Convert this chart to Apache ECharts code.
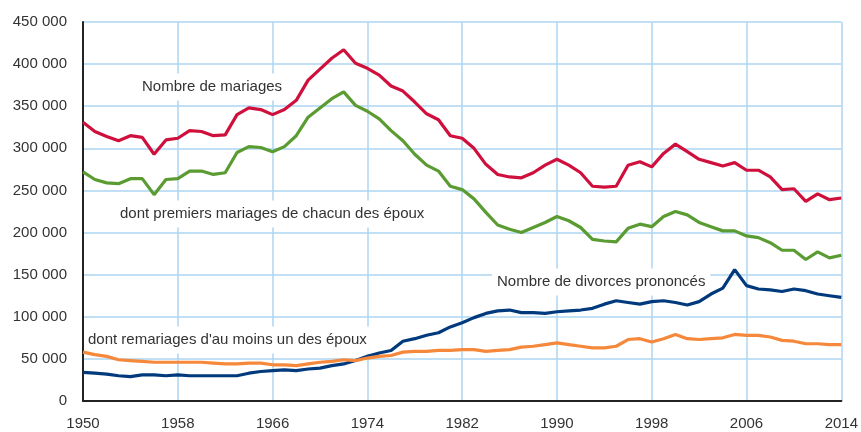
<!DOCTYPE html>
<html>
<head>
<meta charset="utf-8">
<script src="https://cdn.jsdelivr.net/npm/echarts@6/dist/echarts.min.js"></script>
<style>
  html, body { margin: 0; padding: 0; background: #fff; }
  #chart { width: 861px; height: 432px; }
</style>
</head>
<body>
<div id="chart"></div>
<script>
// années 1950 - 2014 (valeurs en milliers)
var firstYear = 1950
var mariages = [331,320,314,309,315,313,293,310,312,321, 320,315,316,340,348,346,340,346,357,381,
    394,407,417,401,395,387,374,368,355,341, 334,315,312,300,281,269,266,265,271,280,
    287,280,271,255,254,255,280,284,278,294, 305,296,287,283,279,283,274,274,266,251,
    252,237,246,239,241]
var premiers = [272,263,259,258,264,264,245,263,264,273, 273,269,271,295,302,301,296,302,315,337,
    348,359,367,351,344,335,321,309,293,280, 273,255,251,240,224,209,204,200,206,212,
    219,214,206,192,190,189,205,210,207,219, 225,221,212,207,202,202,196,194,188,179,
    179,168,177,170,173]
var divorces = [34,33,32,30,29,31,31,30,31,30, 30,30,30,30,33,35,36,37,36,38,
    39,42,44,48,53,57,60,71,74,78, 81,88,93,99,104,107,108,105,105,104,
    106,107,108,110,115,119,117,115,118,119, 117,114,118,127,134,156,137,133,132,130,
    133,131,127,125,123]
var remariages = [58,55,53,49,48,47,46,46,46,46, 46,45,44,44,45,45,43,43,42,44,
    46,47,49,48,51,53,54,58,59,59, 60,60,61,61,59,60,61,64,65,67,
    69,67,65,63,63,65,73,74,70,74, 79,74,73,74,75,79,78,78,76,72,
    71,68,68,67,67]

var labelMariages = 'Nombre de mariages'
var labelPremiers = 'dont premiers mariages de chacun des époux'
var labelDivorces = 'Nombre de divorces prononcés'
var labelRemariages = "dont remariages d'au moins un des époux"

function toPoints(arr) {
    return arr.map(function(v, i) {
        return [firstYear + i, v * 1000]
    })
}

var font = 'Liberation Sans, Arial, sans-serif'
var textColor = '#333'
var gridColor = '#acd6f2'

var myChart = echarts.init(document.getElementById('chart'), null, {renderer: 'canvas'})

function makeSeries(name, arr, color) {
    return {
        name: name,
        type: 'line',
        data: toPoints(arr),
        symbol: 'none',
        lineStyle: {color: color, width: 3.2},
        itemStyle: {color: color},
        z: 3
    }
}

function textBox(str, x, y, padding) {
    return {
        type: 'text',
        x: x,
        y: y,
        z: 1,
        style: {
            text: str,
            fill: textColor,
            font: '15px ' + font,
            verticalAlign: 'middle',
            backgroundColor: '#fff',
            padding: padding || [6, 5]
        }
    }
}

var option = {
    animation: false,
    backgroundColor: '#fff',
    grid: {
        left: 83,
        right: 18,
        top: 22,
        bottom: 31
    },
    xAxis: {
        type: 'value',
        min: 1950,
        max: 2014,
        interval: 8,
        axisLine: {show: true, lineStyle: {color: '#222', width: 2}},
        axisTick: {show: false},
        axisLabel: {
            color: textColor,
            fontSize: 15,
            fontFamily: font,
            margin: 15,
            formatter: function(v) { return String(v) }
        },
        splitLine: {show: true, lineStyle: {color: gridColor, width: 1.5}}
    },
    yAxis: {
        type: 'value',
        min: 0,
        max: 450000,
        interval: 50000,
        axisLine: {show: true, lineStyle: {color: '#222', width: 2}},
        axisTick: {show: false},
        axisLabel: {
            color: textColor,
            fontSize: 15,
            fontFamily: font,
            margin: 16,
            formatter: function(v) { return v === 0 ? '0' : (v / 1000) + ' 000' }
        },
        splitLine: {show: true, lineStyle: {color: gridColor, width: 1.5}}
    },
    series: [
        makeSeries(labelMariages, mariages, '#d0103c'),
        makeSeries(labelPremiers, premiers, '#5a9b32'),
        makeSeries(labelDivorces, divorces, '#003a7d'),
        makeSeries(labelRemariages, remariages, '#f5883a')
    ],
    graphic: [
        textBox(labelMariages, 137, 87),
        textBox(labelPremiers, 115, 214),
        textBox(labelDivorces, 492, 282),
        textBox(labelRemariages, 86, 340, [6, 5, 6, 2])
    ]
}
myChart.setOption(option)
</script>
</body>
</html>
